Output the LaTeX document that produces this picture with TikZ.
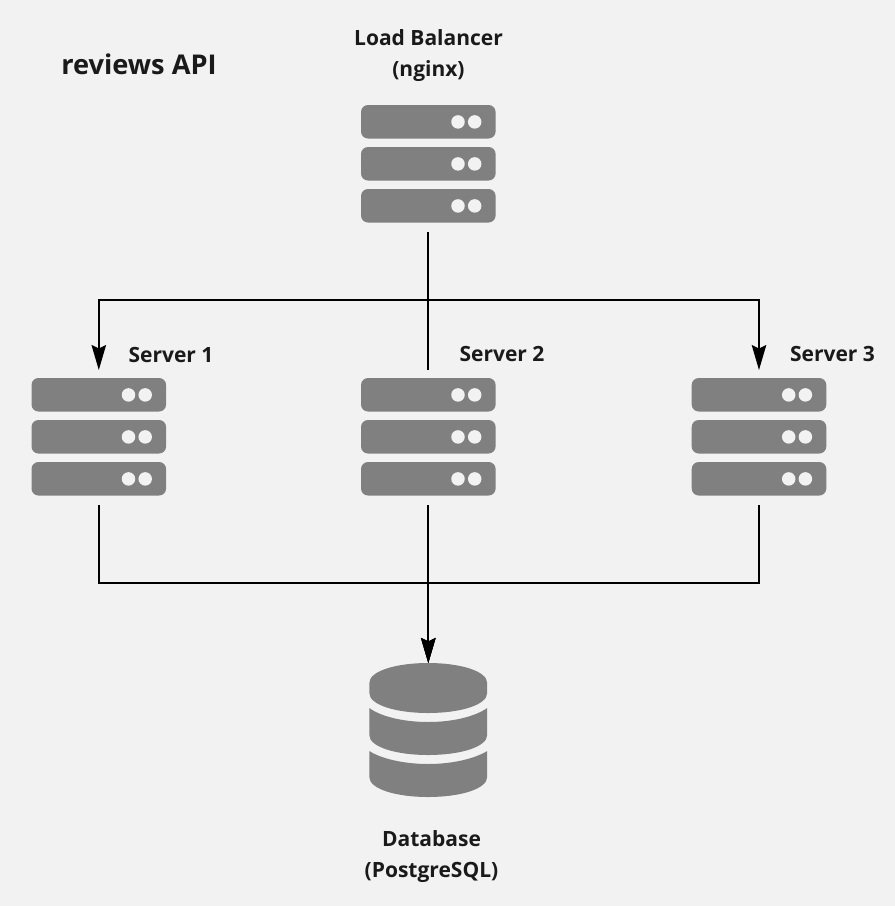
\documentclass[tikz,border=0pt]{standalone}
\usepackage{fontspec}
\setmainfont{Open Sans}
\usetikzlibrary{arrows.meta}
\definecolor{bgc}{HTML}{F2F2F2}
\definecolor{iconc}{HTML}{808080}
\definecolor{dotc}{HTML}{F2F2F2}
\definecolor{textc}{HTML}{1A1A1A}
\tikzset{
  x=1pt,y=-1pt,
  rack/.style={fill=iconc,draw=none,rounded corners=7pt},
  leddot/.style={fill=dotc,draw=none,circle,minimum size=13.5pt,inner sep=0pt},
  iconbox/.style={draw=none,fill=none,minimum width=135pt,minimum height=117pt,inner sep=0pt,outer sep=0pt},
  lbl/.style={font=\bfseries\fontsize{21pt}{30.5pt}\selectfont,text=textc,align=center,inner sep=0pt},
  wire/.style={draw=black,line width=1.7pt,line join=miter},
  flow/.style={wire,-{Stealth[length=25pt,width=14.5pt,inset=3.5pt]}},
  pics/server/.style={code={
    \foreach \y in {-58.5,-16.5,25.5}{
      \fill[rack] (-67.3,\y) rectangle (67.3,\y+33.5);
      \node[leddot] at (29.7,\y+16.9) {};
      \node[leddot] at (46.4,\y+16.9) {};
    }
  }}
}
\begin{document}
\begin{tikzpicture}
\useasboundingbox[fill=bgc] (0,0) rectangle (895,906);

\node[iconbox] (lb) at (428.3,163.5) {};
\pic at (lb.center) {server};
\node[iconbox] (s1) at (98.8,436.5) {};
\pic at (s1.center) {server};
\node[iconbox] (s2) at (428.3,436.5) {};
\pic at (s2.center) {server};
\node[iconbox] (s3) at (759,436.5) {};
\pic at (s3.center) {server};

\node[draw=none,minimum width=118pt,minimum height=134pt,inner sep=0pt,outer sep=0pt] (db) at (428.3,730) {};
\fill[iconc] (369.3,683) .. controls (369.3,671) and (396,663) .. (428.3,663)
  .. controls (460,663) and (487.2,671) .. (487.2,683) -- (487.2,693)
  .. controls (487.2,705) and (460,713) .. (428.3,713)
  .. controls (396,713) and (369.3,705) .. (369.3,693) -- cycle;
\fill[iconc] (369.3,708) .. controls (380,716) and (402,722) .. (428.3,722)
  .. controls (454,722) and (476,716) .. (487.2,708) -- (487.2,735)
  .. controls (487.2,747) and (460,755) .. (428.3,755)
  .. controls (396,755) and (369.3,747) .. (369.3,735) -- cycle;
\fill[iconc] (369.3,751) .. controls (380,758) and (402,764) .. (428.3,764)
  .. controls (454,764) and (476,758) .. (487.2,751) -- (487.2,777)
  .. controls (487.2,789) and (460,797) .. (428.3,797)
  .. controls (396,797) and (369.3,789) .. (369.3,777) -- cycle;

\node[lbl,font=\bfseries\fontsize{27.2pt}{32pt}\selectfont] (title) at (139,64.5) {reviews API};
\node[lbl] (lbl0) at (428.5,55.5) {Load Balancer\\(nginx)};
\node[lbl] (lbl1) at (171,354.8) {Server 1};
\node[lbl] (lbl2) at (502,354.3) {Server 2};
\node[lbl] (lbl3) at (832.5,354.3) {Server 3};
\node[lbl] (lbl4) at (431.5,856.5) {Database\\(PostgreSQL)};

\coordinate (lbout) at ([yshift=-10pt]lb.south);
\coordinate (busin) at (428.3,300.2);
\coordinate (s1in) at ([yshift=8pt]s1.north);
\coordinate (s2in) at ([yshift=8pt]s2.north);
\coordinate (s3in) at ([yshift=8pt]s3.north);
\coordinate (s1out) at ([yshift=-10pt]s1.south);
\coordinate (s2out) at ([yshift=-10pt]s2.south);
\coordinate (s3out) at ([yshift=-10pt]s3.south);
\coordinate (busout) at (428.3,583.2);

\draw[flow] (lbout) -- (busin) -| (s1in);
\draw[wire] (lbout) -- (s2in);
\draw[flow] (lbout) -- (busin) -| (s3in);
\draw[flow] (s1out) |- (busout) -- (db.north);
\draw[flow] (s3out) |- (busout) -- (db.north);
\draw[flow] (s2out) -- (db.north);
\end{tikzpicture}
\end{document}
